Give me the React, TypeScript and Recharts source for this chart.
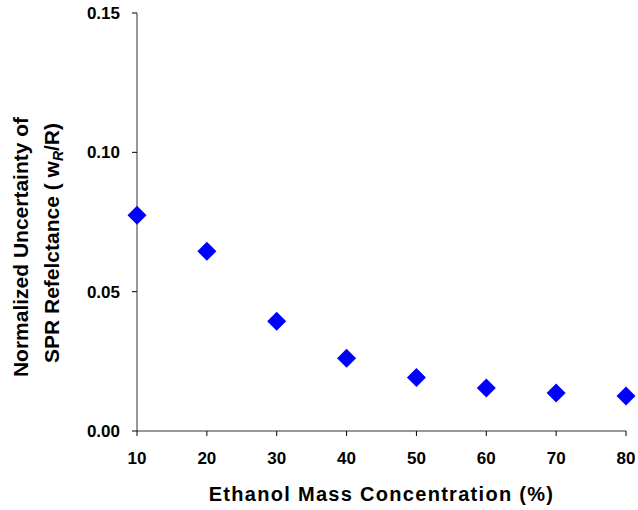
import { ScatterChart, Scatter, XAxis, YAxis } from "recharts";

// ethanol mass concentration (%) vs normalized uncertainty of SPR reflectance
const concentration = [10, 20, 30, 40, 50, 60, 70, 80];
const uncertainty = [0.0774, 0.0645, 0.0394, 0.0261, 0.0192, 0.0154, 0.0136, 0.0126];
const xTicks = [10, 20, 30, 40, 50, 60, 70, 80];
const yTicks = [0, 0.05, 0.1, 0.15];

const data = concentration.map((x, i) => ({ x, y: uncertainty[i] }));

const FONT = '"Liberation Sans", Arial, sans-serif';
const MARGIN = { top: 13, right: 12, bottom: 78, left: 136 };
const W = 638;
const H = 510;
const PLOT_LEFT = 137;
const PLOT_BOTTOM = 431;

function Diamond(props: { cx?: number; cy?: number }) {
  const { cx = 0, cy = 0 } = props;
  const r = 9.5;
  return (
    <path
      d={`M${cx},${cy - r}L${cx + r},${cy}L${cx},${cy + r}L${cx - r},${cy}Z`}
      fill="#0000ff"
    />
  );
}

function YTitle() {
  const mid = MARGIN.top + (PLOT_BOTTOM - MARGIN.top) / 2;
  return (
    <g fontFamily={FONT} fontWeight="bold" fontSize={21} fill="#000">
      <text transform={`translate(28,${mid + 25}) rotate(-90)`} textAnchor="middle">
        Normalized Uncertainty of
      </text>
      <text transform={`translate(58.5,${mid + 21}) rotate(-90)`} textAnchor="middle">
        SPR Refelctance ( w
        <tspan fontStyle="italic" fontSize={14} dy={4}>R</tspan>
        <tspan dy={-4}>/R)</tspan>
      </text>
    </g>
  );
}

function XTitle() {
  const mid = PLOT_LEFT + (W - PLOT_LEFT - MARGIN.right) / 2;
  return (
    <text
      x={mid}
      y={501}
      textAnchor="middle"
      fontFamily={FONT}
      fontWeight="bold"
      fontSize={20}
      letterSpacing={1.3}
      fill="#000"
    >
      Ethanol Mass Concentration (%)
    </text>
  );
}

const tickStyle = { fontSize: 17, fontWeight: "bold", fill: "#000", fontFamily: FONT };

export default function App() {
  return (
    <div style={{ position: "absolute", left: 0, top: 0, background: "#fff" }}>
      <ScatterChart width={W} height={H} margin={MARGIN}>
        <XAxis
          type="number"
          dataKey="x"
          domain={[10, 80]}
          ticks={xTicks}
          height={1}
          tickSize={5}
          tickMargin={16}
          axisLine={{ stroke: "#333" }}
          tickLine={{ stroke: "#000" }}
          tick={tickStyle}
          label={{ content: () => <XTitle /> }}
        />
        <YAxis
          type="number"
          dataKey="y"
          domain={[0, 0.15]}
          ticks={yTicks}
          width={1}
          tickSize={5}
          tickMargin={12}
          tickFormatter={(v: number) => v.toFixed(2)}
          axisLine={{ stroke: "#333" }}
          tickLine={{ stroke: "#000" }}
          tick={tickStyle}
          label={{ content: () => <YTitle /> }}
        />
        <Scatter data={data} shape={<Diamond />} isAnimationActive={false} />
      </ScatterChart>
    </div>
  );
}
